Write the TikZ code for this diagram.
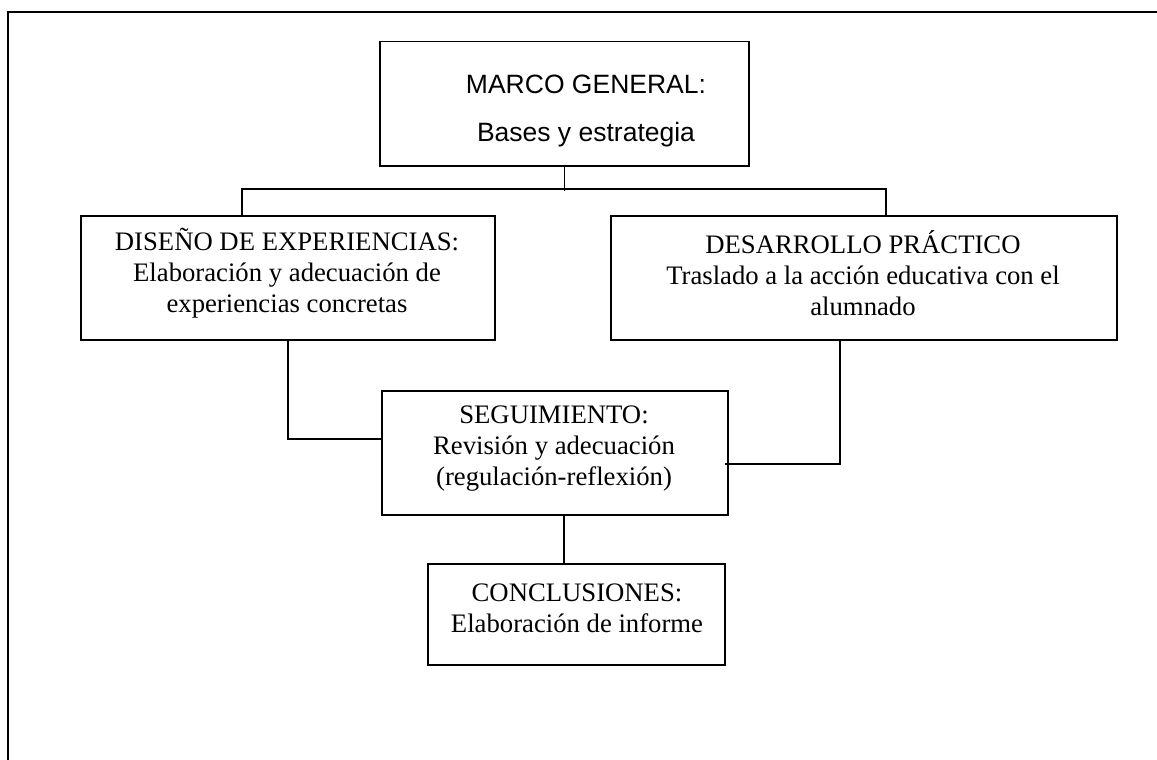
\documentclass[tikz,border=0pt]{standalone}
\usepackage{fontspec}
\setmainfont{Liberation Serif}
\newfontfamily\arialfont{Liberation Sans}
\usepackage{tikz}

\begin{document}
\begin{tikzpicture}[x=1pt,y=-1pt]
\tikzset{caja/.style={draw,line width=1.5pt,inner sep=0pt,anchor=north west},
  texto/.style={align=center,inner sep=0pt,font=\fontsize{26.7}{31}\selectfont},
  linea/.style={line width=1.5pt}}
\useasboundingbox (0,0) rectangle (1157,760);
\draw[line width=2.2pt] (8,760) -- (8,12) -- (1160,12);
% cajas
\node[caja,minimum width=369pt,minimum height=124pt] (marco) at (379,41) {};
\node[caja,minimum width=414pt,minimum height=124pt] (diseno) at (80,215) {};
\node[caja,minimum width=506pt,minimum height=124pt] (desarrollo) at (610,215) {};
\node[caja,minimum width=346pt,minimum height=124pt] (seguim) at (381,390) {};
\node[caja,minimum width=297pt,minimum height=101pt] (concl) at (427,563) {};
% textos
\node[texto,font=\arialfont\fontsize{26.5}{31}\selectfont] (marcotxt) at (586,111) {MARCO GENERAL:\\[17pt]Bases y estrategia};
\node[texto] (disenotxt) at (287,273) {DISEÑO DE EXPERIENCIAS:\\Elaboración y adecuación de\\experiencias concretas};
\node[texto] (desarrollotxt) at (863,273) {DESARROLLO PRÁCTICO\\Traslado a la acción educativa con el\\alumnado};
\node[texto] (seguimtxt) at (554,449) {SEGUIMIENTO:\\Revisión y adecuación\\(regulación-reflexión)};
\node[texto] (concltxt) at (577,608) {CONCLUSIONES:\\Elaboración de informe};
% conexiones
\coordinate (izq) at (242,215);
\coordinate (der) at (886,215);
\coordinate (desout) at (840,339);
\coordinate (segin1) at (381,439);
\coordinate (segin2) at (725,464);
\coordinate (segout) at (564,514);
\coordinate (conclin) at (564,563);
\draw[linea] (marco.south) -- ++(0,24) coordinate (ramal);
\draw[linea] (izq) -- ++(0,-26) -| (der);
\draw[linea] (diseno.south) |- (segin1);
\draw[linea] (desout) |- (segin2);
\draw[linea] (segout) -- (conclin);
\end{tikzpicture}
\end{document}
